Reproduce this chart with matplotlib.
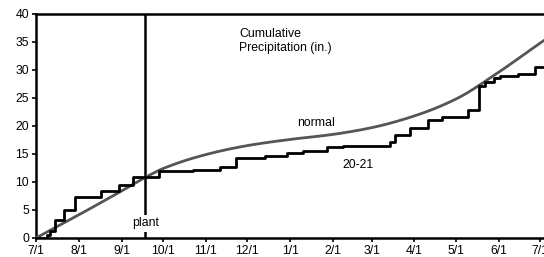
import matplotlib
matplotlib.use("Agg")
import matplotlib.pyplot as plt
import numpy as np

plt.rcParams['font.family'] = ['Liberation Sans', 'DejaVu Sans']

# days since 7/1
obs_days = [0, 8, 10, 14, 20, 28, 47, 60, 70, 89, 114, 133, 145, 166, 182, 193,
            211, 222, 256, 260, 271, 284, 294, 313, 321, 325, 332, 336, 349, 361, 380]
obs_vals = [0, 0.5, 1.3, 3.2, 5.0, 7.4, 8.4, 9.4, 10.9, 11.9, 12.1, 12.6, 14.2, 14.6, 15.2, 15.6,
            16.3, 16.5, 17.1, 18.4, 19.6, 21.0, 21.6, 22.8, 27.1, 27.8, 28.6, 29.0, 29.3, 30.6, 30.6]

norm_days = [0, 30, 62, 79, 92, 123, 153, 184, 215, 243, 274, 304, 335, 365, 380]
norm_vals = [0, 4.0, 8.4, 10.8, 12.4, 14.9, 16.5, 17.6, 18.5, 19.7, 21.8, 24.8, 29.6, 34.8, 37.3]

month_days = [0, 31, 62, 92, 123, 153, 184, 215, 243, 274, 304, 335, 365]
month_labels = ['7/1', '8/1', '9/1', '10/1', '11/1', '12/1', '1/1', '2/1', '3/1', '4/1', '5/1', '6/1', '7/1']
y_ticks = [0, 5, 10, 15, 20, 25, 30, 35, 40]
plant_day = 79

FS = 8.8

fig = plt.figure(figsize=(5.44, 2.57), dpi=100)
ax = fig.add_axes([36/544, 19/257, 380*1.381/544, 224/257])


def pchip(x, y, xq):
    x = np.asarray(x, float); y = np.asarray(y, float)
    h = np.diff(x); d = np.diff(y) / h
    m = np.zeros_like(y)
    for k in range(1, len(y) - 1):
        if d[k-1] * d[k] > 0:
            w1 = 2*h[k] + h[k-1]; w2 = h[k] + 2*h[k-1]
            m[k] = (w1 + w2) / (w1/d[k-1] + w2/d[k])
    m[0] = d[0]; m[-1] = d[-1]
    idx = np.clip(np.searchsorted(x, xq) - 1, 0, len(x) - 2)
    t = (xq - x[idx]) / h[idx]
    h00 = 2*t**3 - 3*t**2 + 1; h10 = t**3 - 2*t**2 + t
    h01 = -2*t**3 + 3*t**2; h11 = t**3 - t**2
    return h00*y[idx] + h10*h[idx]*m[idx] + h01*y[idx+1] + h11*h[idx]*m[idx+1]


xs = np.linspace(0, 380, 400)
ax.plot(xs, pchip(norm_days, norm_vals, xs), color='#555555', lw=2.0, zorder=3)
ax.plot(obs_days, obs_vals, color='black', lw=2.0, drawstyle='steps-post', zorder=4)

ax.axvline(plant_day, color='black', lw=1.8, zorder=2)
ax.text(plant_day, 2.6, 'plant', ha='center', va='center', fontsize=FS,
        bbox=dict(facecolor='white', edgecolor='none', pad=1.5), zorder=5)

ax.text(147, 37.5, 'Cumulative\nPrecipitation (in.)', ha='left', va='top', fontsize=FS,
        linespacing=1.2)
ax.text(203, 20.6, 'normal', ha='center', va='center', fontsize=FS)
ax.text(233, 13.0, '20-21', ha='center', va='center', fontsize=FS)

ax.set_xlim(0, 380)
ax.set_ylim(0, 40)
ax.set_xticks(month_days)
ax.set_xticklabels(month_labels, fontsize=FS)
ax.set_yticks(y_ticks)
ax.set_yticklabels([str(v) for v in y_ticks], fontsize=FS)
ax.tick_params(axis='both', direction='out', length=3, width=1.2, pad=2)
for s in ['left', 'bottom', 'top']:
    ax.spines[s].set_linewidth(1.8)
ax.spines['right'].set_visible(False)

fig.savefig('out.png', dpi=100)
